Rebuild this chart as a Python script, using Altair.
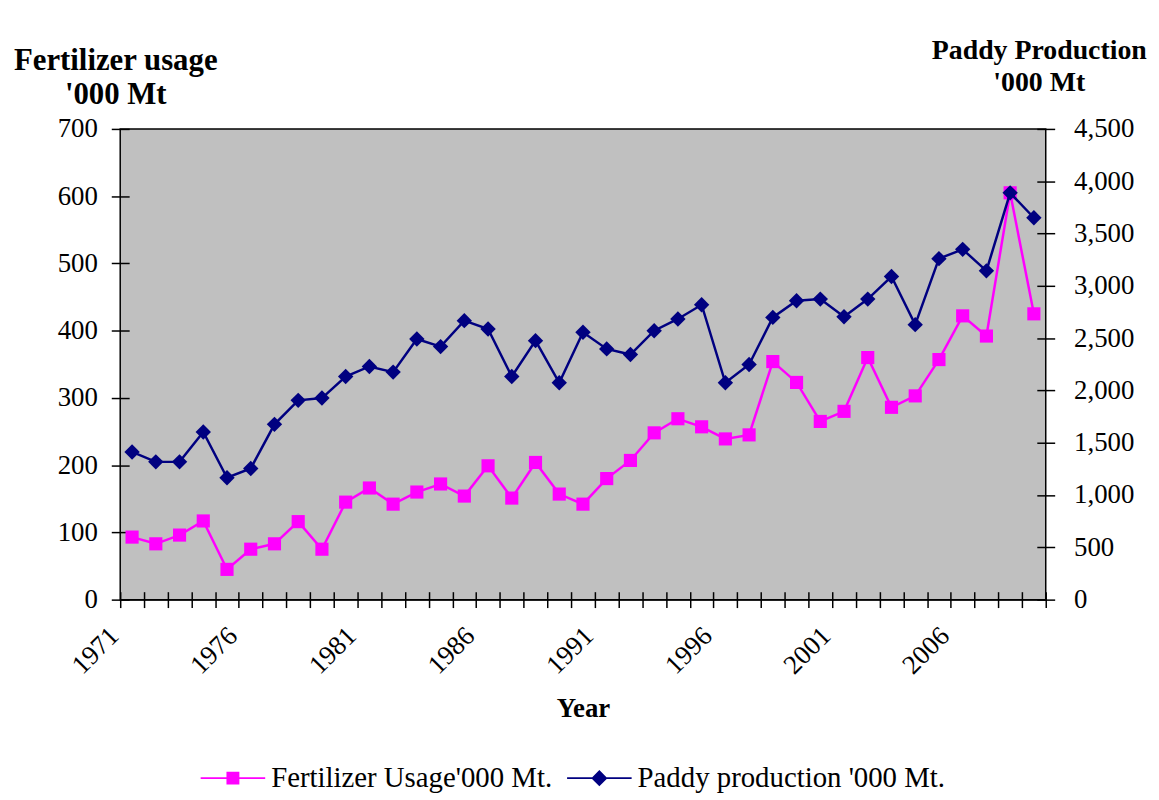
import altair as alt
import pandas as pd

years = list(range(1971, 2010))
fertilizer = [93, 83, 96, 117, 45, 75, 83, 116, 75, 145,
              166, 142, 160, 172, 154, 199, 151, 204, 157, 142,
              180, 207, 248, 269, 257, 239, 245, 354, 323, 265,
              280, 360, 286, 303, 357, 422, 392, 605, 425]
paddy = [1412, 1317, 1317, 1603, 1165, 1254, 1676, 1905, 1927, 2133,
         2229, 2175, 2492, 2419, 2667, 2587, 2133, 2476, 2073, 2556,
         2397, 2343, 2571, 2683, 2819, 2073, 2248, 2698, 2857, 2873,
         2705, 2873, 3089, 2629, 3260, 3349, 3143, 3889, 3651]

fert_name = "Fertilizer Usage'000 Mt."
paddy_name = "Paddy production '000 Mt."
series_names = [fert_name, paddy_name]
series_colors = ["#FF00FF", "#000080"]
label_years = [1971, 1976, 1981, 1986, 1991, 1996, 2001, 2006]
tick_bounds = [y - 0.5 for y in years] + [years[-1] + 0.5]
left_ticks = [0, 100, 200, 300, 400, 500, 600, 700]
right_ticks = [0, 500, 1000, 1500, 2000, 2500, 3000, 3500, 4000, 4500]

df_f = pd.DataFrame({"Year": years, "value": fertilizer, "series": fert_name})
df_p = pd.DataFrame({"Year": years, "value": paddy, "series": paddy_name})
df_all = pd.concat([df_f, df_p], ignore_index=True)

FONT = "Liberation Serif"
x_dom = [years[0] - 0.5, years[-1] + 0.5]

# legend symbols: a line with a marker on it
sq_path = "M-1,-0.03H1V0.03H-1ZM-0.2,-0.2H0.2V0.2H-0.2Z"
dm_path = "M-1,-0.03H1V0.03H-1ZM0,-0.25L0.25,0L0,0.25L-0.25,0Z"

legend = alt.Legend(
    orient="none", legendX=81, legendY=621, direction="horizontal", title=None,
    labelFont=FONT, labelFontSize=29, labelColor="black", labelOffset=6, labelLimit=0,
    symbolSize=4225, symbolStrokeWidth=0, columnPadding=14, symbolOpacity=1,
)
color_leg = alt.Color("series:N", scale=alt.Scale(domain=series_names, range=series_colors), legend=legend)
shape_leg = alt.Shape("series:N", scale=alt.Scale(domain=series_names, range=[sq_path, dm_path]), legend=legend)

base_f = alt.Chart(df_f).encode(
    x=alt.X("Year:Q", scale=alt.Scale(domain=x_dom, nice=False, zero=False),
            axis=alt.Axis(values=label_years, labelAngle=-45, labelAlign="right",
                          labelBaseline="middle", labelPadding=32, labelOffset=-18, tickSize=0,
                          domain=True, domainColor="black", domainWidth=1.5,
                          labelFont=FONT, labelFontSize=27, labelColor="black",
                          format="d", title="Year", titleFont=FONT, titleFontSize=27,
                          titleFontWeight="bold", titleColor="black", titlePadding=17,
                          grid=False, labelFlush=False, labelOverlap=False)),
    y=alt.Y("value:Q", scale=alt.Scale(domain=[0, 700], nice=False),
            axis=alt.Axis(orient="left", values=left_ticks, offset=-9, tickSize=18,
                          tickColor="black", tickWidth=1.5, domain=False, grid=False,
                          labelFont=FONT, labelFontSize=27, labelColor="black", labelPadding=14,
                          title=["Fertilizer usage", "'000 Mt"], titleAngle=0,
                          titleAlign="center", titleBaseline="alphabetic",
                          titleX=-14, titleY=-60, titleFont=FONT, titleFontSize=31,
                          titleFontWeight="bold", titleColor="black", titleLineHeight=34)),
)
layer_f = (base_f.mark_line(strokeWidth=2.5, color="#FF00FF")
           + base_f.mark_point(shape="square", filled=True, size=175, opacity=1, color="#FF00FF"))

base_p = alt.Chart(df_p).encode(
    x=alt.X("Year:Q", scale=alt.Scale(domain=x_dom, nice=False, zero=False),
            axis=alt.Axis(orient="bottom", values=tick_bounds, labels=False, tickSize=16, offset=-8,
                          tickColor="black", tickWidth=1.5, domain=False, grid=False, title=None)),
    y=alt.Y("value:Q", scale=alt.Scale(domain=[0, 4500], nice=False),
            axis=alt.Axis(orient="right", values=right_ticks, format=",.0f", offset=-9, tickSize=18,
                          tickColor="black", tickWidth=1.5, domain=False, grid=False,
                          labelFont=FONT, labelFontSize=27, labelColor="black", labelPadding=19,
                          title=["Paddy Production", "'000 Mt"], titleAngle=0,
                          titleAlign="center", titleBaseline="alphabetic",
                          titleX=2, titleY=-71, titleFont=FONT, titleFontSize=28,
                          titleFontWeight="bold", titleColor="black", titleLineHeight=32)),
)
layer_p = (base_p.mark_line(strokeWidth=2.5, color="#000080")
           + base_p.mark_point(shape="diamond", filled=True, size=240, opacity=1, color="#000080"))

legend_layer = alt.Chart(df_all).mark_point(filled=True, size=0).encode(
    color=color_leg, shape=shape_leg
)

chart = alt.layer(legend_layer, layer_f, layer_p).resolve_scale(
    y="independent", x="independent"
).properties(
    width=932, height=474,
    padding={"left": 113, "top": 119, "right": 106, "bottom": 199},
    autosize="none",
).configure_view(
    fill="#C0C0C0", stroke="black", strokeWidth=1.5
)

chart.save("out.html", embed_options={"renderer": "svg", "actions": False})
